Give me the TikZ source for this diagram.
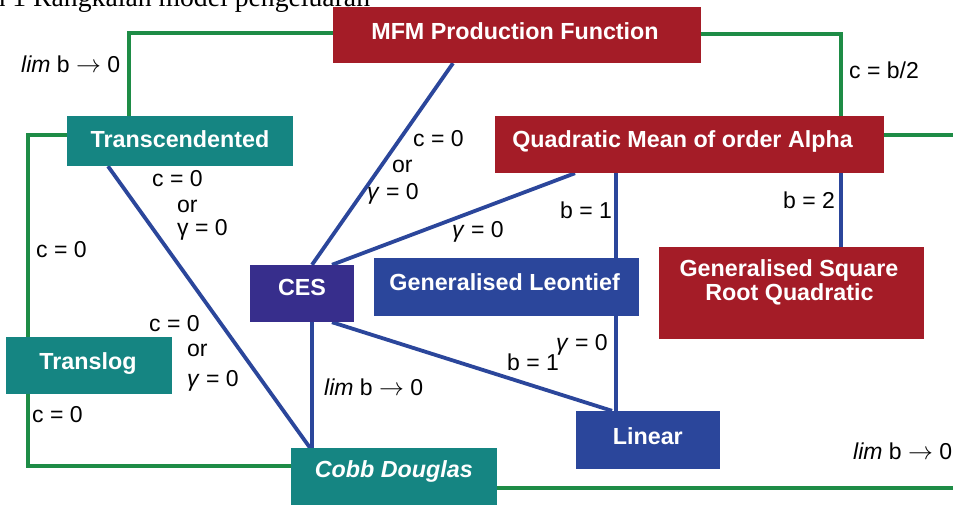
\documentclass[tikz,border=0pt]{standalone}
\usepackage{fontspec}
\setmainfont{Liberation Sans}
\newfontfamily\capfont{Liberation Serif}
\usetikzlibrary{backgrounds}
\definecolor{mred}{RGB}{164,28,39}
\definecolor{mteal}{RGB}{21,133,130}
\definecolor{mindigo}{RGB}{55,46,140}
\definecolor{mblue}{RGB}{43,70,155}
\definecolor{mgreen}{RGB}{30,140,70}
\newcommand{\limarrow}{\textit{lim} b $\rightarrow$ 0}
\tikzset{
  box/.style={rectangle, draw=none, inner sep=0pt},
  redbox/.style={box, fill=mred},
  tealbox/.style={box, fill=mteal},
  indigobox/.style={box, fill=mindigo},
  bluebox/.style={box, fill=mblue},
  boxtext/.style={anchor=base, text=white, inner sep=0pt, font=\bfseries\fontsize{23.3}{26}\selectfont},
  lab/.style={anchor=base west, inner sep=0pt, font=\fontsize{23}{26}\selectfont},
  gline/.style={draw=mgreen, line width=4pt},
  bline/.style={draw=mblue, line width=3.8pt},
}
\begin{document}
\begin{tikzpicture}[x=1pt,y=-1pt]
\useasboundingbox (0,0) rectangle (953,504);
\clip (0,0) rectangle (953,504);
\begin{scope}[on background layer]
  \fill[white] (0,0) rectangle (953,504);
\end{scope}

% caption (cut off at the top)
\node[anchor=base west, inner sep=0pt, font=\capfont\fontsize{27.7}{30}\selectfont] (cap) at (33,6.5) {\llap{Rajah 1\hspace{7pt}}Rangkaian model pengeluaran};

% boxes
\node[redbox, minimum width=368pt, minimum height=56pt] (mfm) at (517,35) {};
\node[redbox, minimum width=389pt, minimum height=57pt] (qma) at (689.5,144.5) {};
\node[tealbox, minimum width=226pt, minimum height=50pt] (trans) at (180,141) {};
\node[indigobox, minimum width=104pt, minimum height=57pt] (ces) at (302,293.5) {};
\node[bluebox, minimum width=265pt, minimum height=58pt] (gl) at (506.5,287) {};
\node[redbox, minimum width=265pt, minimum height=92pt] (gsrq) at (791.5,293) {};
\node[tealbox, minimum width=166pt, minimum height=57pt] (translog) at (89,365.5) {};
\node[tealbox, minimum width=206pt, minimum height=62pt] (cd) at (394,479) {};
\node[bluebox, minimum width=144pt, minimum height=58pt] (linear) at (648,440) {};

% box texts
\node[boxtext] (tmfm) at (515,39.5) {MFM Production Function};
\node[boxtext] (tqma) at (682.5,147.5) {Quadratic Mean of order Alpha};
\node[boxtext] (ttrans) at (180,147.5) {Transcendented};
\node[boxtext] (tces) at (302,295.5) {CES};
\node[boxtext] (tgl) at (504.7,290.5) {Generalised Leontief};
\node[boxtext] (tgsrqa) at (789,276.5) {Generalised Square};
\node[boxtext] (tgsrqb) at (789.5,300.5) {Root Quadratic};
\node[boxtext] (ttranslog) at (88,369) {Translog};
\node[boxtext] (tcd) at (393.8,477.5) {\itshape Cobb Douglas};
\node[boxtext] (tlinear) at (647.8,444) {Linear};

% free ends of connectors
\coordinate (qend) at (960,135);
\coordinate (cdend) at (960,488);

% connectors
\begin{scope}[on background layer]
  \draw[gline] ([yshift=2pt]mfm.west) -| ([xshift=62pt]trans.north west);
  \draw[gline] ([yshift=1pt]mfm.east) -| ([xshift=-43pt]qma.north east);
  \draw[gline] ([yshift=9.5pt]qma.east) -- (qend);
  \draw[gline] ([yshift=6pt]trans.west) -| ([xshift=22pt]translog.north west);
  \draw[gline] ([xshift=22pt]translog.south west) |- ([yshift=13pt]cd.west);
  \draw[gline] ([yshift=-9pt]cd.east) -- (cdend);

  \draw[bline] ([xshift=-64pt]mfm.south) -- ([xshift=10pt]ces.north);
  \draw[bline] ([xshift=-72pt]trans.south) -- ([xshift=-84pt]cd.north);
  \draw[bline] ([xshift=-114.5pt]qma.south) -- ([xshift=30pt]ces.north);
  \draw[bline] ([xshift=-73.5pt]qma.south) -- ([xshift=109.5pt]gl.north);
  \draw[bline] ([xshift=109.5pt]gl.south) -- ([xshift=-32pt]linear.north);
  \draw[bline] ([xshift=151.5pt]qma.south) -- ([xshift=49.5pt]gsrq.north);
  \draw[bline] ([xshift=10pt]ces.south) -- ([xshift=-82pt]cd.north);
  \draw[bline] ([xshift=30pt]ces.south) -- ([xshift=-36pt]linear.north);
\end{scope}

% labels
\node[lab] (l1) at (21,72.5) {\limarrow};
\node[lab] (l2) at (849,78) {c = b/2};
\node[lab] (l3a) at (413,146.5) {c = 0};
\node[lab] (l3b) at (392,172.7) {or};
\node[lab] (l3c) at (367,199) {\textit{γ} = 0};
\node[lab] (l4a) at (152,186.7) {c = 0};
\node[lab] (l4b) at (177,212.3) {or};
\node[lab] (l4c) at (177,235.3) {γ = 0};
\node[lab] (l5) at (36,257) {c = 0};
\node[lab] (l6) at (452,237.3) {\textit{γ} = 0};
\node[lab] (l7) at (560,218.3) {b = 1};
\node[lab] (l8) at (783,208.3) {b = 2};
\node[lab] (l9a) at (149,331.7) {c = 0};
\node[lab] (l9b) at (187,356.7) {or};
\node[lab] (l9c) at (187,386.7) {\textit{γ} = 0};
\node[lab] (l10) at (32,422.3) {c = 0};
\node[lab] (l11) at (324,395) {\limarrow};
\node[lab] (l12) at (507,370.7) {b = 1};
\node[lab] (l13) at (556,350) {\textit{γ} = 0};
\node[lab] (l14) at (853,459.3) {\limarrow};
\end{tikzpicture}
\end{document}
